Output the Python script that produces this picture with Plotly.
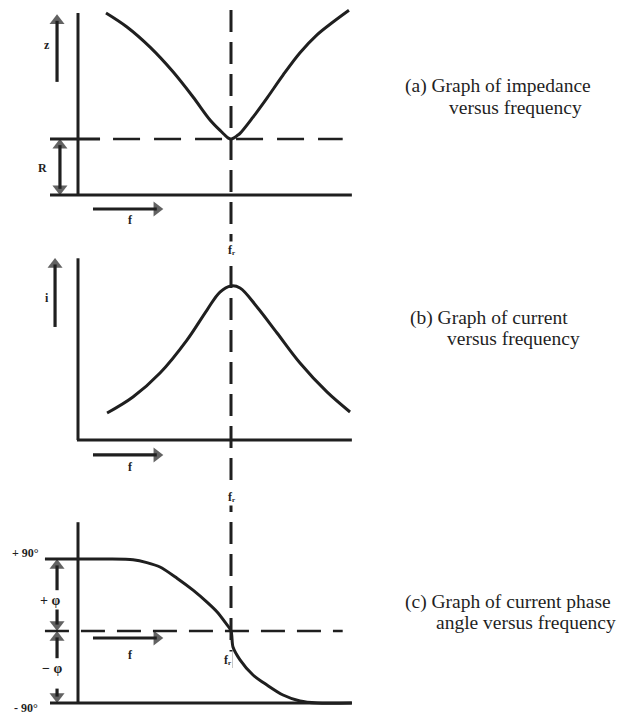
import plotly.graph_objects as go

W, H = 621, 716
INK = "#1f1f1f"
SERIF = "Liberation Serif, Times New Roman, serif"

# Frequency is expressed relative to resonance (f / f_r), so f_r = 1
F_R = 1.0

# (a) Impedance Z in units of R
imp_f = [0.183, 0.320, 0.471, 0.621, 0.752, 0.863, 0.941, 0.960, 0.980, 1.000,
         1.020, 1.040, 1.059, 1.144, 1.235, 1.340, 1.451, 1.562, 1.667, 1.771]
imp_z = [3.25, 3.00, 2.64, 2.20, 1.75, 1.34, 1.12, 1.07, 1.02, 1.00,
         1.02, 1.06, 1.10, 1.39, 1.73, 2.14, 2.54, 2.86, 3.09, 3.30]

# (b) Current, relative to its peak at resonance
cur_f = [0.190, 0.359, 0.536, 0.712, 0.843, 0.928, 1.000,
         1.059, 1.170, 1.301, 1.451, 1.627, 1.778]
cur_i = [0.175, 0.279, 0.435, 0.649, 0.844, 0.961, 1.000,
         0.987, 0.864, 0.695, 0.500, 0.312, 0.182]

# (c) Current phase angle in degrees
ph_f = [0.00, 0.20, 0.36, 0.45, 0.536, 0.647, 0.752, 0.843, 0.908, 0.961,
        1.000, 1.013, 1.059, 1.144, 1.235, 1.340, 1.451, 1.562, 1.79]
ph_deg = [90, 90, 89, 85.5, 80, 66, 51, 36, 24, 11,
          0, -20, -36, -55, -67.5, -80, -87.5, -90, -90]

# Plot extents in frequency units
F_LEFT, F_END = -0.183, 1.79
Z_TOP, I_TOP, PH_TOP = 3.25, 1.18, 136

captions = [
    ["(a) Graph of impedance", "versus frequency"],
    ["(b) Graph of current", "versus frequency"],
    ["(c) Graph of current phase", "angle versus frequency"],
]


# ---- layout helpers: each panel has its own y scale, all share one x scale
X_ZERO_PX, X_PX_PER_UNIT = 78, 153


def x_range():
    return [-X_ZERO_PX / X_PX_PER_UNIT, (W - X_ZERO_PX) / X_PX_PER_UNIT]


def y_range(zero_px, px_per_unit):
    return [(zero_px - H) / px_per_unit, zero_px / px_per_unit]


def px(x, y):
    return x / W, 1 - y / H


fig = go.Figure()

line_style = dict(color=INK, width=3)
fig.add_trace(go.Scatter(x=imp_f, y=imp_z, yaxis="y", mode="lines",
                         line=dict(**line_style, shape="spline", smoothing=1.0)))
fig.add_trace(go.Scatter(x=cur_f, y=cur_i, yaxis="y2", mode="lines",
                         line=dict(**line_style, shape="spline", smoothing=1.0)))
fig.add_trace(go.Scatter(x=ph_f, y=ph_deg, yaxis="y3", mode="lines",
                         line=dict(**line_style, shape="spline", smoothing=0.8)))

shapes = []


def seg(x0, y0, x1, y1, yref, dash="solid", width=3):
    shapes.append(dict(type="line", xref="x", yref=yref, x0=x0, y0=y0,
                       x1=x1, y1=y1, line=dict(color=INK, width=width, dash=dash)))


# (a) axes, R level
seg(0, 0, 0, Z_TOP, "y")
seg(F_LEFT, 0, F_END, 0, "y")
seg(F_LEFT, 1, 0.144, 1, "y")
seg(0.229, 1, 1.73, 1, "y", dash="27px,14px", width=2.5)

# (b) axes
seg(0, 0, 0, I_TOP, "y2")
seg(-0.007, 0, F_END, 0, "y2")

# (c) axes, +90 level and zero-phase reference
seg(0, -90, 0, PH_TOP, "y3")
seg(F_LEFT, -90, F_END, -90, "y3")
seg(-0.216, 90, 0, 90, "y3")
seg(-0.216, 0, 1.73, 0, "y3", dash="24px,12px", width=2.5)

# resonance frequency line through all three panels
shapes.append(dict(type="line", xref="x", yref="paper", x0=F_R, x1=F_R,
                   y0=1 - 10 / H, y1=1 - 668 / H,
                   line=dict(color=INK, width=3, dash="22px,10px")))


def arrow(x0, y0, x1, y1, yaxis):
    """Shaft from (x0, y0) with a filled triangular head centred on (x1, y1)."""
    fig.add_trace(go.Scatter(
        x=[x0, x1], y=[y0, y1], yaxis=yaxis, mode="lines+markers",
        line=dict(color=INK, width=3.2),
        marker=dict(symbol="triangle-up", angleref="previous", size=[0, 13],
                    color=INK, line=dict(width=0)),
        hoverinfo="skip"))


# (a) arrows
arrow(-0.137, 2.02, -0.137, 3.11, "y")
arrow(-0.118, 0.5, -0.118, 0.89, "y")
arrow(-0.118, 0.5, -0.118, 0.11, "y")
arrow(0.098, -0.25, 0.515, -0.25, "y")
# (b) arrows
arrow(-0.150, 0.734, -0.150, 1.14, "y2")
arrow(0.098, -0.097, 0.515, -0.097, "y2")
# (c) arrows
arrow(-0.137, 51, -0.137, 82, "y3")
arrow(-0.137, 30, -0.137, 8, "y3")
arrow(-0.137, -34, -0.137, -8, "y3")
arrow(-0.137, -72, -0.137, -82, "y3")
arrow(0.098, -8.75, 0.515, -8.75, "y3")

annotations = []


def label(text, xpx, ypx, size=11, bg=None):
    x, y = px(xpx, ypx)
    a = dict(x=x, y=y, xref="paper", yref="paper", text=text, showarrow=False,
             font=dict(family=SERIF, size=size, color=INK),
             xanchor="center", yanchor="middle")
    if bg:
        a["bgcolor"] = bg
    annotations.append(a)


# symbols
label("<b>z</b>", 47, 45, 12)
label("<b>R</b>", 42, 168, 12)
label("<b>f</b>", 130, 220, 12)
label("<b>i</b>", 47, 298, 12)
label("<b>f</b>", 130, 467, 12)
label("<b>f</b>", 130, 655, 12)
label("<b>+ 90°</b>", 25, 553, 12)
label("<b>- 90°</b>", 26, 708, 12)
label("<b>+ φ</b>", 50, 600, 14, bg="white")
label("<b>− φ</b>", 52, 668, 14, bg="white")
label("<b>fᵣ</b>", 231, 250, 12, bg="white")
label("<b>fᵣ</b>", 231, 497, 12, bg="white")
label("<b>fᵣ</b>", 227, 660, 12, bg="white")

# captions
cap_pos = [((403, 86), (447, 107)),
           ((408, 318), (445, 338)),
           ((403, 602), (434, 622))]
for lines, pos in zip(captions, cap_pos):
    for text, (xp, yp) in zip(lines, pos):
        x, y = px(xp, yp)
        annotations.append(dict(x=x, y=y, xref="paper", yref="paper",
                                text=text, showarrow=False, xanchor="left",
                                yanchor="middle",
                                font=dict(family=SERIF, size=19.5, color=INK)))

hidden = dict(visible=False, showgrid=False, zeroline=False, fixedrange=True)
fig.update_layout(
    width=W, height=H,
    margin=dict(l=0, r=0, t=0, b=0),
    paper_bgcolor="white", plot_bgcolor="white",
    showlegend=False,
    xaxis=dict(range=x_range(), domain=[0, 1], **hidden),
    yaxis=dict(range=y_range(195, 56), domain=[0, 1], **hidden),
    yaxis2=dict(range=y_range(440, 154), overlaying="y", **hidden),
    yaxis3=dict(range=y_range(631, 0.8), overlaying="y", **hidden),
    shapes=shapes,
    annotations=annotations,
)

fig.write_html("out.html")
